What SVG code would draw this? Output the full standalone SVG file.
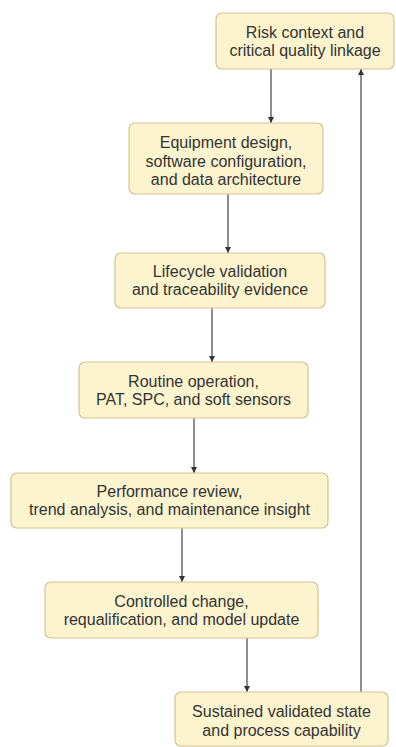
<svg xmlns="http://www.w3.org/2000/svg" width="396" height="747" viewBox="0 0 396 747">
<defs>
<style>
.node rect{fill:#fcf3cf;stroke:#d6c38e;stroke-width:1.2}
.node text{font-family:"Liberation Sans",Arial,sans-serif;font-size:16px;fill:#333;text-anchor:middle}
.edges line{stroke:#444;stroke-width:1.2;fill:none}
</style>
<marker id="arr" viewBox="0 0 10 10" refX="10" refY="5" markerWidth="6" markerHeight="6" orient="auto" markerUnits="userSpaceOnUse">
<path d="M0,0 L10,5 L0,10 z" fill="#333"/>
</marker>
</defs>
<rect width="396" height="747" fill="#fff"/>
<g class="edges">
<line x1="271" y1="69" x2="271" y2="123" marker-end="url(#arr)"/>
<line x1="228" y1="194" x2="228" y2="253" marker-end="url(#arr)"/>
<line x1="212" y1="308" x2="212" y2="362" marker-end="url(#arr)"/>
<line x1="194" y1="418" x2="194" y2="473" marker-end="url(#arr)"/>
<line x1="182" y1="528" x2="182" y2="582" marker-end="url(#arr)"/>
<line x1="247" y1="638" x2="247" y2="692" marker-end="url(#arr)"/>
<line x1="361" y1="692" x2="361" y2="69" marker-end="url(#arr)"/>
</g>
<g id="n1" class="node">
<rect x="216" y="13" width="178" height="56" rx="6"/>
<text x="305" y="37.5">Risk context and</text>
<text x="305" y="55.5">critical quality linkage</text>
</g>
<g id="n2" class="node">
<rect x="129" y="123" width="194" height="71" rx="6"/>
<text x="226" y="148">Equipment design,</text>
<text x="226" y="166.5">software configuration,</text>
<text x="226" y="185">and data architecture</text>
</g>
<g id="n3" class="node">
<rect x="115" y="253" width="210" height="55" rx="6"/>
<text x="220" y="277">Lifecycle validation</text>
<text x="220" y="295">and traceability evidence</text>
</g>
<g id="n4" class="node">
<rect x="79" y="362" width="229" height="56" rx="6"/>
<text x="193.5" y="386.5">Routine operation,</text>
<text x="193.5" y="404.5">PAT, SPC, and soft sensors</text>
</g>
<g id="n5" class="node">
<rect x="11" y="473" width="317" height="55" rx="6"/>
<text x="169.5" y="497">Performance review,</text>
<text x="169.5" y="515">trend analysis, and maintenance insight</text>
</g>
<g id="n6" class="node">
<rect x="45" y="582" width="273" height="56" rx="6"/>
<text x="181.5" y="606.5">Controlled change,</text>
<text x="181.5" y="624.5">requalification, and model update</text>
</g>
<g id="n7" class="node">
<rect x="175" y="692" width="213" height="54" rx="6"/>
<text x="281.5" y="717">Sustained validated state</text>
<text x="281.5" y="736">and process capability</text>
</g>
</svg>
